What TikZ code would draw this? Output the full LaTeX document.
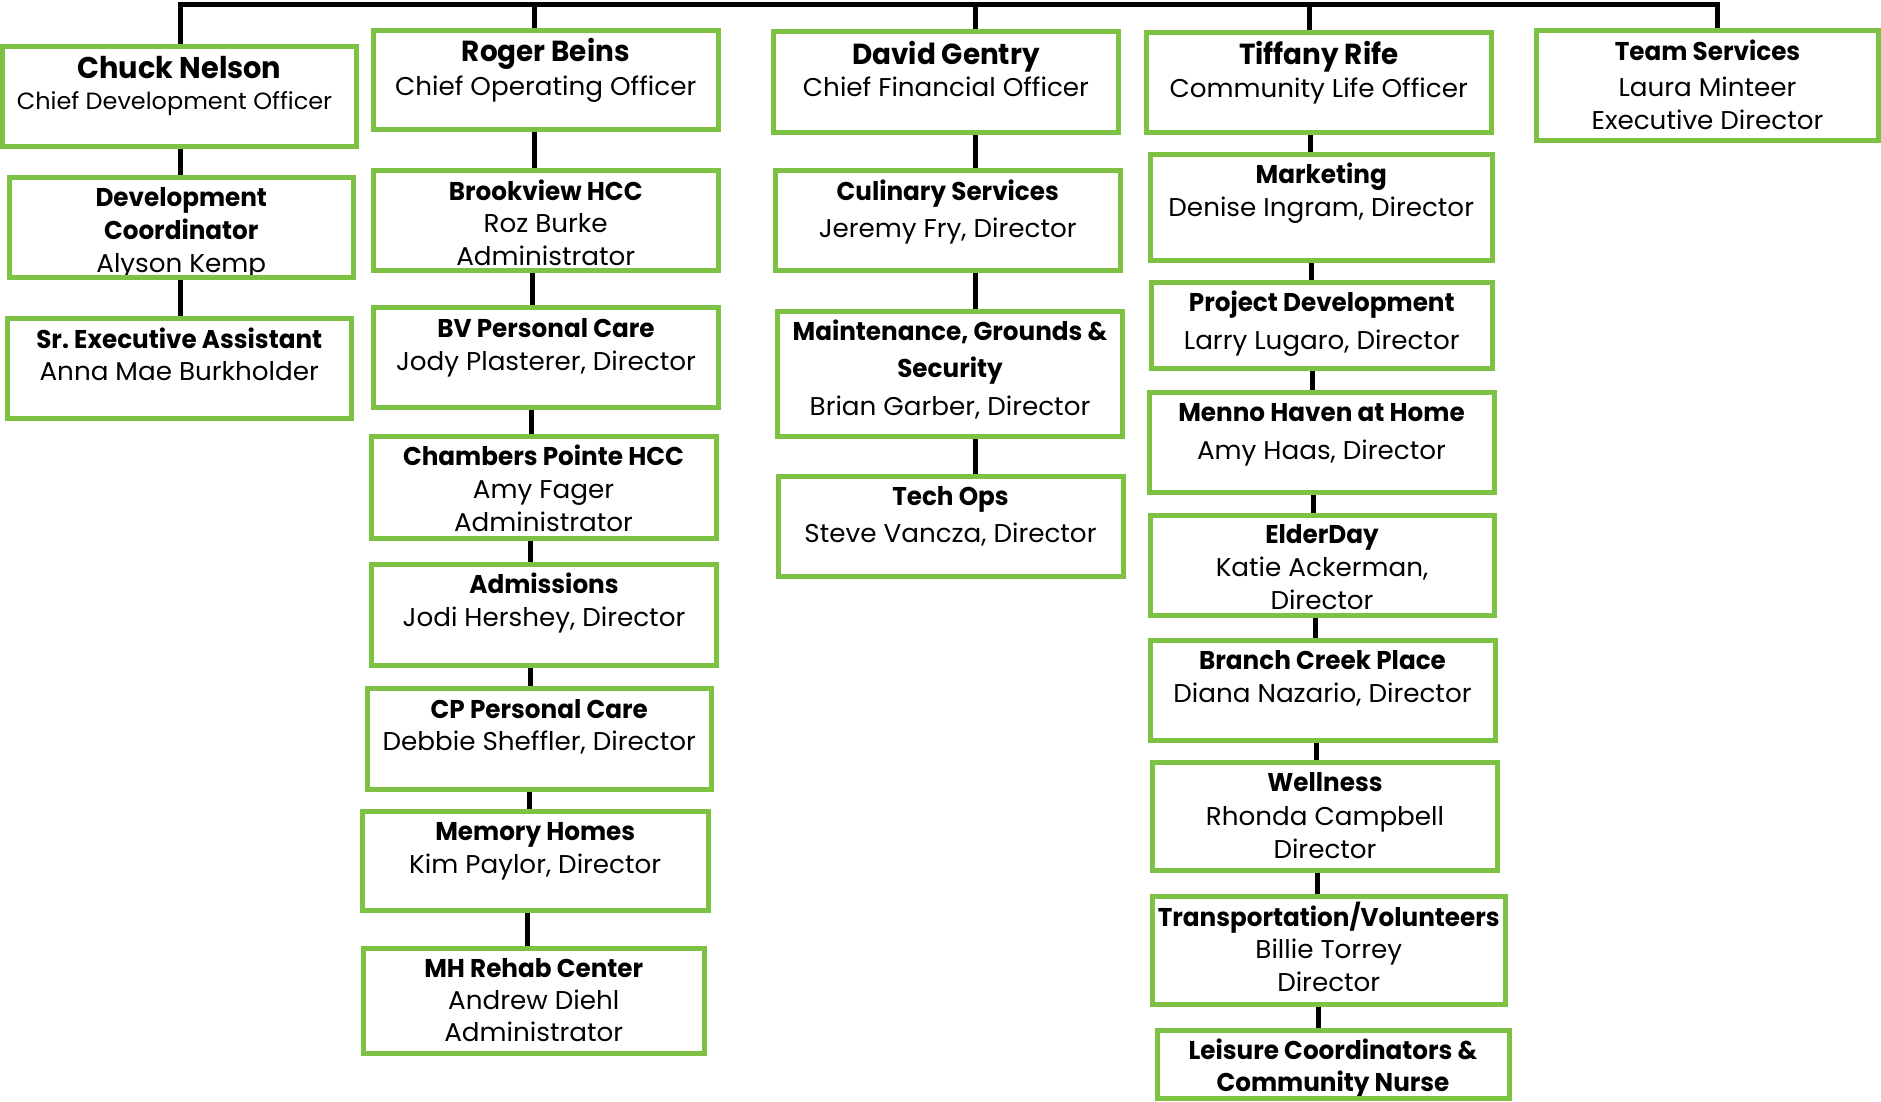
\documentclass[tikz,border=0pt]{standalone}
\usepackage{fontspec}
\setmainfont{Poppins}[UprightFeatures={FakeStretch=1.02}, BoldFeatures={FakeStretch=0.96}]
\definecolor{orggreen}{RGB}{125,194,66}
\tikzset{
  gbox/.style={draw=orggreen, line width=5pt, inner sep=0pt},
  txt/.style={inner sep=0pt, text=black},
  conn/.style={draw=black, line width=5pt},
}
\newcommand\ctrline[1]{\hbox to\linewidth{\hss#1\hss}}
\newcommand\hdline[1]{\ctrline{\bfseries#1}}
\newcommand\nmline[1]{\ctrline{\fontsize{29}{33}\selectfont\bfseries#1}}
\newcommand\orgbox[8]{%
  \pgfmathsetmacro\bw{#4-#2}%
  \pgfmathsetmacro\bh{#5-#3}%
  \pgfmathsetmacro\cx{(#2+#4)/2}%
  \pgfmathsetmacro\cy{-(#3+#5)/2}%
  \node[txt, font=\fontsize{25.7}{#7}\selectfont, anchor=base] (#1t) at (\cx,-#6) {\vtop{\linewidth=\bw pt\relax #8}};
  \node[gbox, minimum width=\bw pt, minimum height=\bh pt] (#1) at (\cx,\cy) {};
}
\newcommand\vlink[3]{\draw[conn] (#1.south -| #3,0) -- (#2.north -| #3,0);}
\begin{document}
\begin{tikzpicture}[x=1pt,y=1pt]
\useasboundingbox (0,0) rectangle (1881,-1101);
% column 1
\orgbox{chuck}{2.5}{46}{356.5}{146}{78.3}{31}{\ctrline{\fontsize{30}{33}\selectfont\bfseries Chuck Nelson}\ctrline{\fontsize{23.5}{31}\selectfont Chief Development Officer\hspace{10pt}}}
\orgbox{dev}{9}{177.5}{353.5}{277}{206.7}{33}{\hdline{Development}\hdline{Coordinator}\ctrline{Alyson Kemp}}
\orgbox{sr}{7}{318}{351.5}{418}{348.3}{32}{\hdline{Sr.\ Executive Assistant}\ctrline{Anna Mae Burkholder}}
% column 2
\orgbox{roger}{373.5}{30}{718}{129.5}{61.7}{33.3}{\nmline{Roger Beins}\ctrline{Chief Operating Officer}}
\orgbox{brook}{373.5}{170}{718}{270}{200}{32.5}{\hdline{Brookview HCC}\ctrline{Roz Burke}\ctrline{Administrator}}
\orgbox{bv}{373.5}{307}{718.5}{407}{337.3}{32.7}{\hdline{BV Personal Care}\ctrline{Jody Plasterer, Director}}
\orgbox{cham}{371}{436}{716}{538}{465}{33.3}{\hdline{Chambers Pointe HCC}\ctrline{Amy Fager}\ctrline{Administrator}}
\orgbox{adm}{371.5}{564.5}{716.5}{665}{593.3}{33.4}{\hdline{Admissions}\ctrline{Jodi Hershey, Director}}
\orgbox{cp}{367}{688.5}{711.5}{789}{718.3}{32.4}{\hdline{CP Personal Care}\ctrline{Debbie Sheffler, Director}}
\orgbox{mem}{362.5}{811}{708}{910.5}{840}{33}{\hdline{Memory Homes}\ctrline{Kim Paylor, Director}}
\orgbox{mh}{363}{948}{704.5}{1053.5}{977.7}{32}{\hdline{MH Rehab Center}\ctrline{Andrew Diehl}\ctrline{Administrator}}
% column 3
\orgbox{david}{773.5}{31.5}{1118.5}{132}{64}{32.7}{\nmline{David Gentry}\ctrline{Chief Financial Officer}}
\orgbox{cul}{775.5}{170}{1120}{270.5}{200}{37.5}{\hdline{Culinary Services}\ctrline{Jeremy Fry, Director}}
\orgbox{maint}{777.5}{311.5}{1122.5}{436}{340}{37.5}{\hdline{Maintenance, Grounds \&}\hdline{Security}\ctrline{Brian Garber, Director}}
\orgbox{tech}{778}{476}{1123}{576}{505}{37.5}{\hdline{Tech Ops}\ctrline{Steve Vancza, Director}}
% column 4
\orgbox{tif}{1146}{32.5}{1491.5}{132.5}{64}{33.3}{\nmline{Tiffany Rife}\ctrline{Community Life Officer}}
\orgbox{mkt}{1150.5}{154}{1492}{260}{183.3}{33.4}{\hdline{Marketing}\ctrline{Denise Ingram, Director}}
\orgbox{proj}{1151.5}{282}{1492}{368}{311.7}{37.6}{\hdline{Project Development}\ctrline{Larry Lugaro, Director}}
\orgbox{menno}{1149}{392.5}{1494}{492.5}{421}{38.3}{\hdline{Menno Haven at Home}\ctrline{Amy Haas, Director}}
\orgbox{elder}{1150}{515}{1494}{615}{543.3}{33.3}{\hdline{ElderDay}\ctrline{Katie Ackerman,}\ctrline{Director}}
\orgbox{branch}{1150}{640}{1495}{740}{669.3}{33}{\hdline{Branch Creek Place}\ctrline{Diana Nazario, Director}}
\orgbox{well}{1152.5}{762}{1497.5}{870}{791.7}{33.3}{\hdline{Wellness}\ctrline{Rhonda Campbell}\ctrline{Director}}
\orgbox{trans}{1152.5}{896}{1505}{1004}{926}{32.5}{\hdline{Transportation/Volunteers}\ctrline{Billie Torrey}\ctrline{Director}}
\orgbox{leis}{1157}{1030}{1509}{1098.5}{1059.3}{32.4}{\hdline{Leisure Coordinators \&}\hdline{Community Nurse}}
% column 5
\orgbox{team}{1536.5}{30}{1878.5}{140}{60}{32.3}{\hdline{Team Services}\vskip4.4pt\ctrline{Laura Minteer}\ctrline{Executive Director}}
% top bar
\coordinate (top1) at (180,-4);
\coordinate (top2) at (534.6,-4);
\coordinate (top3) at (975,-4);
\coordinate (top4) at (1309,-4);
\coordinate (top5) at (1717.5,-4);
\draw[conn, line join=miter] (chuck.north -| top1) -- (top1) -- (top5) -- (team.north -| top5);
\draw[conn] (top2) -- (roger.north -| top2);
\draw[conn] (top3) -- (david.north -| top3);
\draw[conn] (top4) -- (tif.north -| top4);
% column links
\vlink{chuck}{dev}{180}
\vlink{dev}{sr}{180}
\vlink{roger}{brook}{534}
\vlink{brook}{bv}{532.7}
\vlink{bv}{cham}{531.7}
\vlink{cham}{adm}{530.5}
\vlink{adm}{cp}{530}
\vlink{cp}{mem}{529}
\vlink{mem}{mh}{527.7}
\vlink{david}{cul}{975}
\vlink{cul}{maint}{975}
\vlink{maint}{tech}{975}
\vlink{tif}{mkt}{1310}
\vlink{mkt}{proj}{1311}
\vlink{proj}{menno}{1312.3}
\vlink{menno}{elder}{1313.7}
\vlink{elder}{branch}{1315}
\vlink{branch}{well}{1316}
\vlink{well}{trans}{1317.3}
\vlink{trans}{leis}{1318.7}
\end{tikzpicture}
\end{document}
